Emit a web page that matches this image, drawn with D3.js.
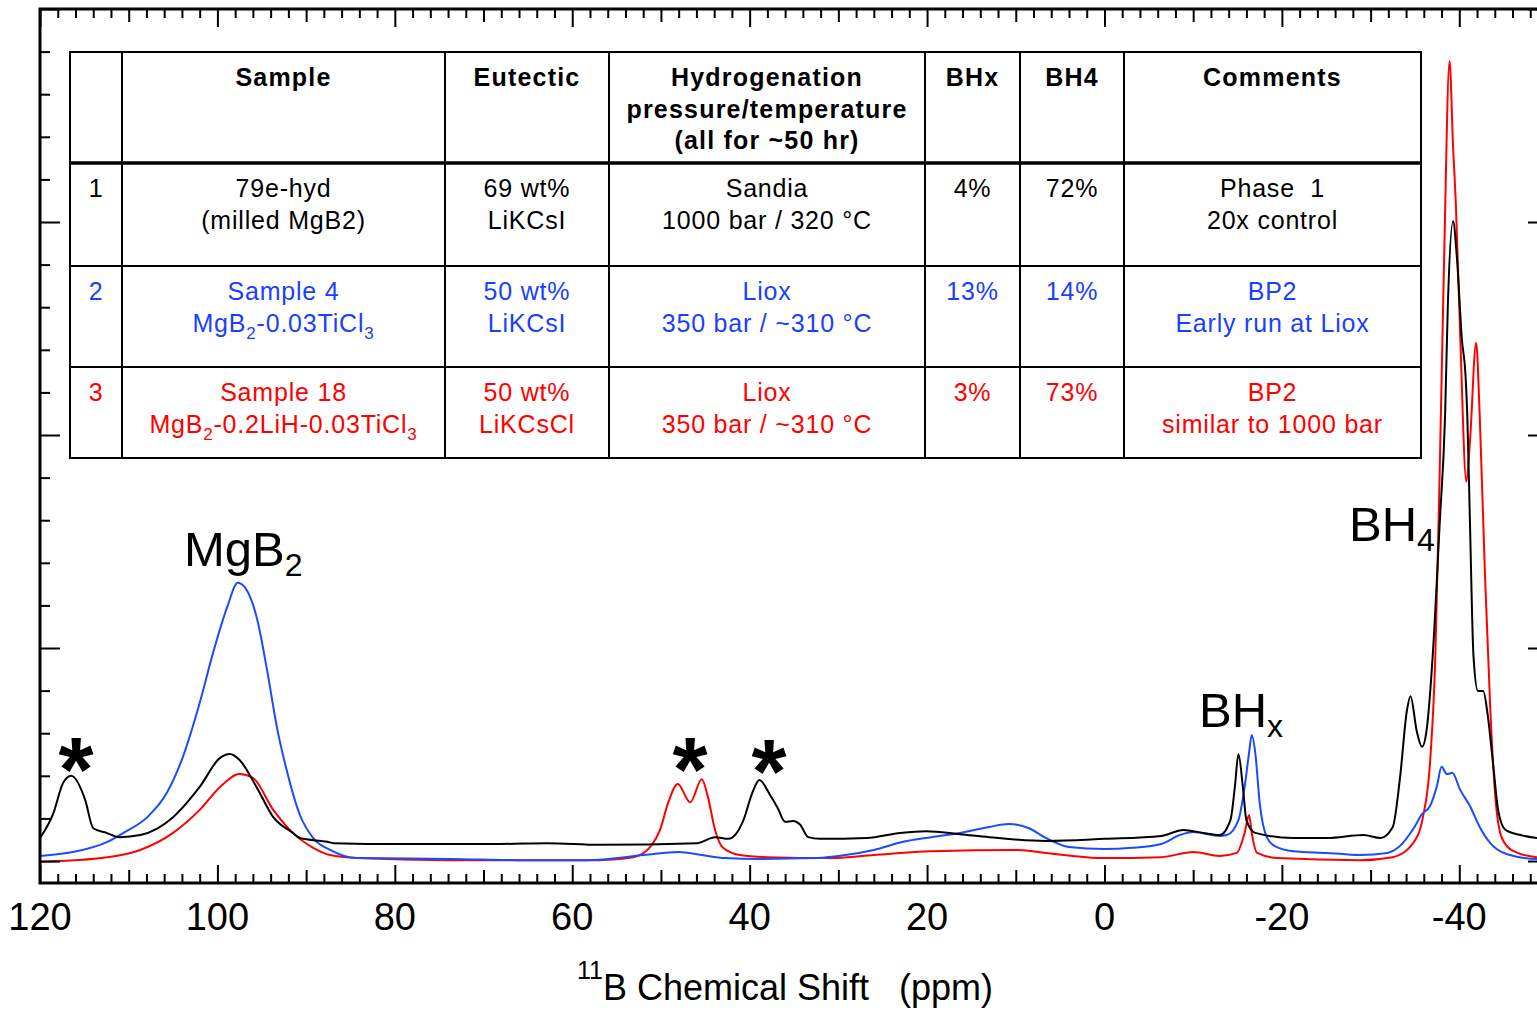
<!DOCTYPE html>
<html><head><meta charset="utf-8">
<script src="https://cdn.jsdelivr.net/npm/d3@7"></script>
<style>body{margin:0;background:#fff}svg{display:block}</style>
</head><body>
<svg id="chart" width="1537" height="1010"></svg>
<script>
// ---------- data (ppm, arbitrary intensity) ----------
const blackShift = [120,118.5,117.4,116.5,114.9,114.0,112.5,111.0,108.7,105.0,102.0,99.7,98.6,97.5,95.6,93.7,91.5,90.7,87.6,86.9,79.4,68.1,62.8,56.9,45.9,43.9,42.4,40.7,39.7,38.9,37.7,36.9,36.0,35.1,34.3,33.4,32.1,26.8,23.0,20.1,16.3,13.0,6.6,0.0,-6.4,-8.9,-11.1,-13.0,-14.2,-14.7,-15.1,-15.6,-16.0,-17.0,-21.3,-25.1,-29.2,-31.1,-32.5,-33.3,-34.1,-34.5,-35.2,-35.8,-36.3,-37.0,-37.8,-38.4,-38.7,-39.3,-39.7,-40.3,-40.7,-40.9,-41.2,-41.6,-42.1,-42.7,-43.2,-43.8,-44.4,-45.2,-46.9,-48.8,-50];
const blackIntensity = [5.4,11.2,18.3,20.0,14.3,7.7,6.6,5.6,6.1,10.3,17.4,24.2,25.1,23.7,17.4,10.3,6.6,5.4,4.5,4.2,4.0,4.0,4.2,3.8,4.2,5.6,5.2,9.6,16.0,19.0,15.5,12.7,9.2,9.4,8.5,5.6,5.2,5.4,6.6,7.0,6.3,5.6,4.7,5.2,5.9,7.3,6.6,6.1,9.6,17.4,25.1,17.4,9.6,6.6,5.4,5.4,6.1,5.4,8.0,19.2,35.4,38.7,30.5,26.8,30.5,48.1,79.6,104.7,129.8,150.2,142.5,122.3,114.1,104.7,79.6,48.1,39.9,39.9,34.3,23.0,11.7,7.3,6.1,5.4,5.3];

const blueShift = [120,116.3,112.4,110.6,107.9,105.7,103.9,102.0,100.5,98.9,97.7,96.7,95.5,94.4,93.3,92.2,90.7,89.2,87.3,84.3,73.8,64.8,58.3,51.9,48.0,45.4,42.8,38.9,32.4,29.2,26.0,22.7,19.5,16.3,13.0,10.8,8.5,6.6,4.0,0.0,-3.1,-6.4,-8.5,-10.0,-13.0,-13.8,-15.1,-15.8,-16.3,-16.6,-17.0,-17.5,-18.3,-19.2,-21.3,-25.1,-28.8,-31.9,-33.3,-34.8,-35.8,-36.7,-37.5,-38.0,-38.6,-39.2,-40.1,-41.2,-42.3,-43.5,-45.4,-48.8,-50];
const blueIntensity = [1.2,2.1,4.5,6.6,10.3,16.0,24.4,37.1,48.8,59.6,65.3,63.6,56.6,44.8,31.5,21.4,10.8,5.4,2.6,0.7,0.5,0.2,0.2,1.4,2.1,1.4,0.7,0.5,0.7,1.4,2.6,4.5,5.6,6.6,8.0,8.7,7.7,5.4,3.3,2.8,3.1,4.0,6.1,6.8,5.9,6.1,9.6,17.4,25.4,29.6,25.4,13.6,5.6,3.5,2.3,1.9,1.4,1.9,3.5,7.5,11.0,12.9,17.8,22.1,20.4,20.7,16.7,12.9,8.0,4.2,1.6,0.5,0.5];

const redShift = [120,112.4,108.7,105.0,102.0,99.7,97.5,96.0,93.7,91.5,89.2,87.3,84.3,73.8,62.5,56.9,53.1,51.2,50.1,49.2,48.1,46.7,45.4,44.7,43.9,43.0,41.1,38.0,30.6,26.0,19.5,9.7,6.6,0.0,-6.4,-10.0,-13.0,-14.9,-15.8,-16.3,-16.6,-17.2,-19.5,-28.8,-32.5,-34.8,-35.9,-36.7,-37.3,-37.8,-38.3,-38.9,-39.3,-39.6,-40.1,-40.8,-41.2,-41.9,-42.3,-42.9,-43.5,-44.0,-44.8,-46.1,-48.8,-50];
const redIntensity = [-0.2,0.9,2.6,6.6,12.0,17.4,20.4,19.5,12.0,6.6,3.1,1.4,0.7,0.2,0.2,0.2,0.9,3.3,7.3,13.6,18.1,13.8,19.2,15.0,7.3,3.1,1.4,0.9,0.7,1.4,2.3,2.6,1.9,0.7,0.9,2.1,1.2,1.9,6.6,10.8,6.6,1.9,0.7,0.2,0.9,4.2,10.3,23.0,48.1,92.3,142.5,187.8,167.6,154.9,123.5,89.0,98.4,121.6,104.7,66.9,35.4,16.7,5.4,2.3,0.9,0.8];

const xTickLabels = [120,100,80,60,40,20,0,-20,-40];

// table content
const tableHeader = ["", "Sample", "Eutectic", "Hydrogenation|pressure/temperature|(all for ~50 hr)", "BHx", "BH4", "Comments"];
const row1 = ["1", "79e-hyd|(milled MgB2)", "69 wt%|LiKCsI", "Sandia|1000 bar / 320 °C", "4%", "72%", "Phase  1|20x control"];
const row2 = ["2", "Sample 4|MgB_2-0.03TiCl_3", "50 wt%|LiKCsI", "Liox|350 bar / ~310 °C", "13%", "14%", "BP2|Early run at Liox"];
const row3 = ["3", "Sample 18|MgB_2-0.2LiH-0.03TiCl_3", "50 wt%|LiKCsCl", "Liox|350 bar / ~310 °C", "3%", "73%", "BP2|similar to 1000 bar"];
const rowColors = ["#000000", "#1a3fff", "#ff0000"];

// ---------- layout ----------
const svg = d3.select("#chart");
const W = 1537, H = 1010;
const pLeft = 40, pTop = 9, pBottom = 883, pRight = 1548;
const BLUE = "#1a4bff", RED = "#ff0000";
const FONT = "'Liberation Sans', Arial, Helvetica, sans-serif";

const x = d3.scaleLinear().domain([120, -50]).range([pLeft, pRight]);
const y = d3.scaleLinear().domain([-5.16, 200]).range([pBottom, pTop]);

svg.append("rect").attr("width", W).attr("height", H).attr("fill", "#fff");

svg.append("clipPath").attr("id", "plotclip").append("rect")
  .attr("x", pLeft).attr("y", pTop).attr("width", pRight - pLeft).attr("height", pBottom - pTop);

// ---------- curves ----------
const line = d3.line().x(d => x(d[0])).y(d => y(d[1])).curve(d3.curveMonotoneX);
const series = [
  {shift: redShift, val: redIntensity, color: RED},
  {shift: blueShift, val: blueIntensity, color: BLUE},
  {shift: blackShift, val: blackIntensity, color: "#000"}
];
const gLines = svg.append("g").attr("clip-path", "url(#plotclip)");
series.forEach(s => {
  gLines.append("path")
    .datum(s.shift.map((v, i) => [v, s.val[i]]))
    .attr("d", line).attr("fill", "none")
    .attr("stroke", s.color).attr("stroke-width", 2).attr("stroke-linejoin", "round");
});

// ---------- axes ----------
const minorX = d3.range(-50, 121, 2).filter(v => v % 10 !== 0);
const medX = d3.range(-50, 121, 10).filter(v => v % 20 !== 0);
const majX = d3.range(-40, 121, 20);
function styleAxis(g) {
  g.select(".domain").remove();
  g.selectAll(".tick line").attr("stroke", "#000").attr("stroke-width", 2);
}
[[minorX, 9], [medX, 13], [majX, 18]].forEach(([vals, len]) => {
  svg.append("g").attr("transform", `translate(0,${pBottom})`)
    .call(d3.axisTop(x).tickValues(vals).tickSize(len).tickFormat("")).call(styleAxis);
  svg.append("g").attr("transform", `translate(0,${pTop})`)
    .call(d3.axisBottom(x).tickValues(vals).tickSize(len).tickFormat("")).call(styleAxis);
});
const minorY = d3.range(0, 201, 10).filter(v => v % 50 !== 0);
const majY = d3.range(0, 201, 50);
[[minorY, 10], [majY, 20]].forEach(([vals, len]) => {
  svg.append("g").attr("transform", `translate(${pLeft},0)`)
    .call(d3.axisRight(y).tickValues(vals).tickSize(len).tickFormat("")).call(styleAxis);
  svg.append("g").attr("transform", `translate(${pRight},0)`)
    .call(d3.axisLeft(y).tickValues(vals).tickSize(len).tickFormat("")).call(styleAxis);
});
svg.append("rect").attr("x", pLeft).attr("y", pTop).attr("width", pRight - pLeft).attr("height", pBottom - pTop)
  .attr("fill", "none").attr("stroke", "#000").attr("stroke-width", 3);

svg.append("g").selectAll("text").data(xTickLabels).join("text")
  .attr("x", d => x(d)).attr("y", 930).attr("text-anchor", "middle")
  .attr("font-family", FONT).attr("font-size", 38).attr("fill", "#000")
  .text(d => d);

const title = svg.append("text").attr("x", 577).attr("y", 1000)
  .attr("font-family", FONT).attr("fill", "#000").style("white-space", "pre");
title.append("tspan").attr("font-size", 25).attr("dy", -21).text("11");
title.append("tspan").attr("font-size", 36).attr("dy", 21).text("B Chemical Shift   (ppm)");

// ---------- peak annotations ----------
function rich(sel, s, subSize, subDy) {
  const parts = s.split(/(_[0-9x])/);
  let shifted = false;
  parts.forEach(p => {
    if (!p) return;
    if (p[0] === "_") {
      sel.append("tspan").attr("dy", subDy).attr("font-size", subSize).text(p.slice(1));
      shifted = true;
    } else {
      const t = sel.append("tspan").text(p);
      if (shifted) { t.attr("dy", -subDy); shifted = false; }
    }
  });
}
const annotations = [
  {t: "MgB_2", px: 184, py: 566},
  {t: "BH_x", px: 1199, py: 727},
  {t: "BH_4", px: 1349, py: 541}
];
annotations.forEach(a => {
  const t = svg.append("text").attr("x", a.px).attr("y", a.py)
    .attr("font-family", FONT).attr("font-size", 49).attr("fill", "#000");
  rich(t, a.t, 32, 10);
});
const stars = [[76, 801], [690, 801], [769, 803]];
stars.forEach(([sx, sy]) => {
  svg.append("text").attr("x", sx).attr("y", sy).attr("text-anchor", "middle")
    .attr("font-family", FONT).attr("font-weight", "bold").attr("font-size", 90).attr("fill", "#000").text("*");
});

// ---------- table ----------
const colX = [70, 122, 445, 609, 925, 1020, 1124, 1421];
const rowY = [52, 163, 266, 367, 458];
const tg = svg.append("g");
tg.append("rect").attr("x", colX[0]).attr("y", rowY[0])
  .attr("width", colX[7] - colX[0]).attr("height", rowY[4] - rowY[0])
  .attr("fill", "#fff").attr("stroke", "#000").attr("stroke-width", 2);
colX.slice(1, 7).forEach(cx => tg.append("line").attr("x1", cx).attr("x2", cx)
  .attr("y1", rowY[0]).attr("y2", rowY[4]).attr("stroke", "#000").attr("stroke-width", 2));
rowY.slice(1, 4).forEach((ry, i) => tg.append("line").attr("x1", colX[0]).attr("x2", colX[7])
  .attr("y1", ry).attr("y2", ry).attr("stroke", "#000").attr("stroke-width", i === 0 ? 3.5 : 2));

function cellText(content, ci, baseY, color, bold) {
  const cx = ci === 0 ? 96 : (colX[ci] + colX[ci + 1]) / 2;
  content.split("|").forEach((ln, li) => {
    const t = tg.append("text").attr("x", cx).attr("y", baseY + li * 31.5)
      .attr("text-anchor", "middle").attr("font-family", FONT)
      .attr("font-size", 25).attr("letter-spacing", bold ? 1.2 : 0.8)
      .attr("font-weight", bold ? "bold" : "normal").attr("fill", color)
      .style("white-space", "pre");
    rich(t, ln, 17, 7);
  });
}
tableHeader.forEach((c, i) => cellText(c, i, 86, "#000", true));
[row1, row2, row3].forEach((r, ri) => {
  const by = [197, 300, 401][ri];
  r.forEach((c, i) => cellText(c, i, by, rowColors[ri], false));
});
</script>
</body></html>
